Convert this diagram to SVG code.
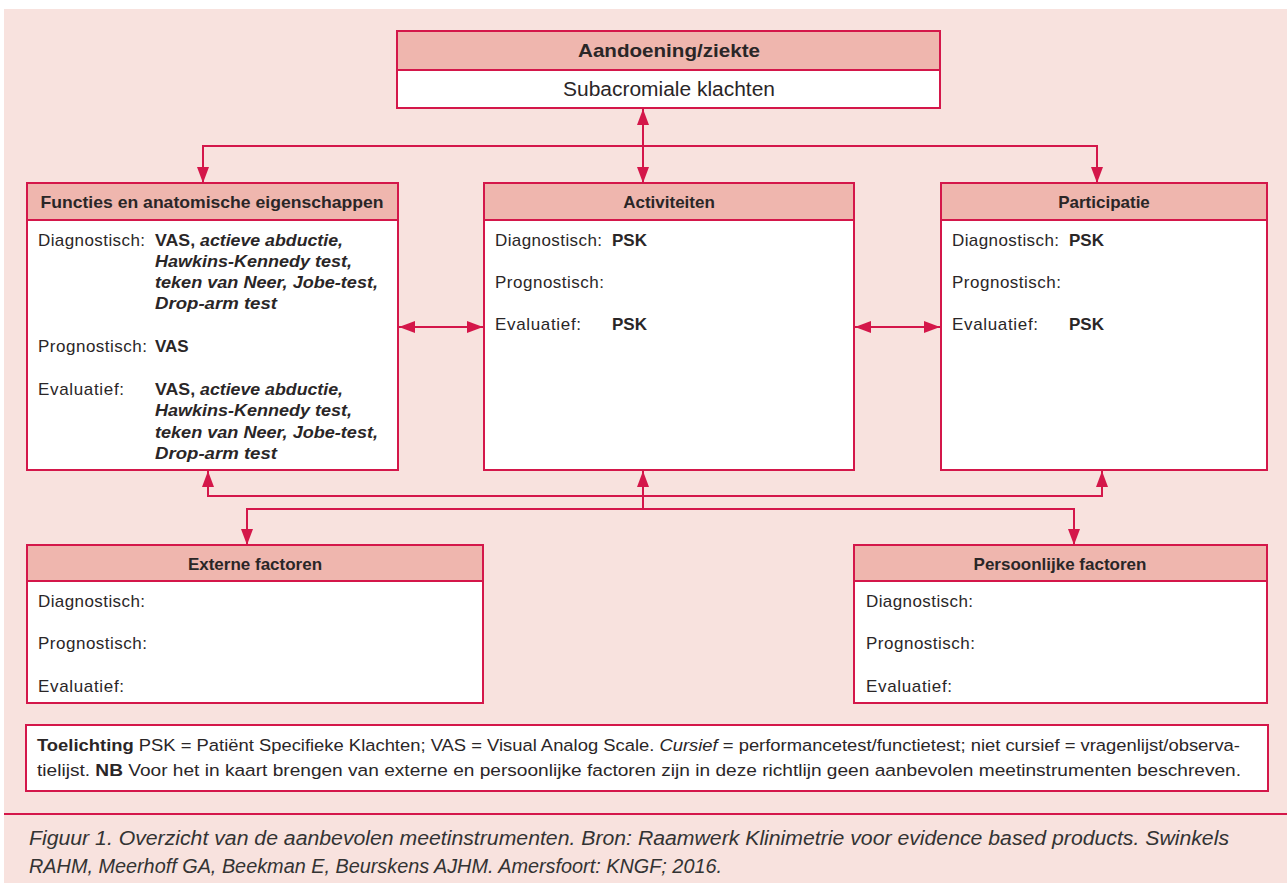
<svg xmlns="http://www.w3.org/2000/svg" width="1287" height="883" viewBox="0 0 1287 883">
<style>
.bg{fill:#f8e2de}
.box{fill:#ffffff;stroke:#d4174a;stroke-width:2}
.hdr{fill:#efb6ae;stroke:#d4174a;stroke-width:2}
.con{fill:none;stroke:#d4174a;stroke-width:2}
text{font-family:"Liberation Sans",Arial,sans-serif;fill:#2a2627}
.h{font-size:17px;font-weight:bold;text-anchor:middle}
.t{font-size:17px}
.b{font-weight:bold}
.bi{font-weight:bold;font-style:italic}
.i{font-style:italic}
.lg{font-size:16.3px}
.cap{font-size:19.5px;font-style:italic;fill:#333}
</style>
<defs>
<marker id="ah" markerUnits="userSpaceOnUse" markerWidth="17" markerHeight="13" refX="16" refY="6.5" orient="auto-start-reverse" viewBox="0 0 17 13">
<path d="M0,0.5 L16,6.5 L0,12.5 z" fill="#d4174a"/>
</marker>
</defs>
<rect x="0" y="0" width="1287" height="883" fill="#ffffff"/>
<rect class="bg" x="4" y="9" width="1283" height="874"/>
<line x1="4" y1="814" x2="1287" y2="814" stroke="#d4174a" stroke-width="2"/>

<g id="connectors">
<path class="con" d="M643,109 V183" marker-start="url(#ah)" marker-end="url(#ah)"/>
<path class="con" d="M203,183 V146 H1097 V183" marker-start="url(#ah)" marker-end="url(#ah)"/>
<path class="con" d="M399,327 H483" marker-start="url(#ah)" marker-end="url(#ah)"/>
<path class="con" d="M855,327 H940" marker-start="url(#ah)" marker-end="url(#ah)"/>
<path class="con" d="M208,471 V496 H1102 V471" marker-start="url(#ah)" marker-end="url(#ah)"/>
<path class="con" d="M643,471 V509" marker-start="url(#ah)"/>
<path class="con" d="M247,545 V509 H1074 V545" marker-start="url(#ah)" marker-end="url(#ah)"/>
</g>

<g id="node-aandoening">
<rect class="box" x="397" y="31" width="543" height="77"/>
<rect class="hdr" x="397" y="31" width="543" height="39"/>
<text class="h" x="669" y="57" style="font-size:18.5px" textLength="182" lengthAdjust="spacingAndGlyphs">Aandoening/ziekte</text>
<text x="669" y="96" style="font-size:19.5px;text-anchor:middle" textLength="212" lengthAdjust="spacingAndGlyphs">Subacromiale klachten</text>
</g>

<g id="node-functies">
<rect class="box" x="27" y="183" width="371" height="287"/>
<rect class="hdr" x="27" y="183" width="371" height="37"/>
<text class="h" x="212" y="208" textLength="343" lengthAdjust="spacingAndGlyphs">Functies en anatomische eigenschappen</text>
<text class="t" x="38" y="246" textLength="107" lengthAdjust="spacing">Diagnostisch:</text>
<text class="t" x="155" y="246" textLength="188" lengthAdjust="spacingAndGlyphs"><tspan class="b">VAS, </tspan><tspan class="bi">actieve abductie,</tspan></text>
<text class="t bi" x="155" y="267" textLength="197" lengthAdjust="spacingAndGlyphs">Hawkins-Kennedy test,</text>
<text class="t bi" x="155" y="288" textLength="223" lengthAdjust="spacingAndGlyphs">teken van Neer, Jobe-test,</text>
<text class="t bi" x="155" y="309" textLength="122" lengthAdjust="spacingAndGlyphs">Drop-arm test</text>
<text class="t" x="38" y="352" textLength="109" lengthAdjust="spacing">Prognostisch:</text>
<text class="t b" x="155" y="352">VAS</text>
<text class="t" x="38" y="395" textLength="86" lengthAdjust="spacing">Evaluatief:</text>
<text class="t" x="155" y="395" textLength="188" lengthAdjust="spacingAndGlyphs"><tspan class="b">VAS, </tspan><tspan class="bi">actieve abductie,</tspan></text>
<text class="t bi" x="155" y="416" textLength="197" lengthAdjust="spacingAndGlyphs">Hawkins-Kennedy test,</text>
<text class="t bi" x="155" y="438" textLength="223" lengthAdjust="spacingAndGlyphs">teken van Neer, Jobe-test,</text>
<text class="t bi" x="155" y="459" textLength="122" lengthAdjust="spacingAndGlyphs">Drop-arm test</text>
</g>

<g id="node-activiteiten">
<rect class="box" x="484" y="183" width="370" height="287"/>
<rect class="hdr" x="484" y="183" width="370" height="37"/>
<text class="h" x="669" y="208">Activiteiten</text>
<text class="t" x="495" y="246" textLength="107" lengthAdjust="spacing">Diagnostisch:</text>
<text class="t b" x="612" y="246">PSK</text>
<text class="t" x="495" y="288" textLength="109" lengthAdjust="spacing">Prognostisch:</text>
<text class="t" x="495" y="330" textLength="86" lengthAdjust="spacing">Evaluatief:</text>
<text class="t b" x="612" y="330">PSK</text>
</g>

<g id="node-participatie">
<rect class="box" x="941" y="183" width="326" height="287"/>
<rect class="hdr" x="941" y="183" width="326" height="37"/>
<text class="h" x="1104" y="208">Participatie</text>
<text class="t" x="952" y="246" textLength="107" lengthAdjust="spacing">Diagnostisch:</text>
<text class="t b" x="1069" y="246">PSK</text>
<text class="t" x="952" y="288" textLength="109" lengthAdjust="spacing">Prognostisch:</text>
<text class="t" x="952" y="330" textLength="86" lengthAdjust="spacing">Evaluatief:</text>
<text class="t b" x="1069" y="330">PSK</text>
</g>

<g id="node-externe">
<rect class="box" x="27" y="545" width="456" height="158"/>
<rect class="hdr" x="27" y="545" width="456" height="36"/>
<text class="h" x="255" y="570">Externe factoren</text>
<text class="t" x="38" y="607" textLength="107" lengthAdjust="spacing">Diagnostisch:</text>
<text class="t" x="38" y="649" textLength="109" lengthAdjust="spacing">Prognostisch:</text>
<text class="t" x="38" y="692" textLength="86" lengthAdjust="spacing">Evaluatief:</text>
</g>

<g id="node-persoonlijke">
<rect class="box" x="854" y="545" width="413" height="158"/>
<rect class="hdr" x="854" y="545" width="413" height="36"/>
<text class="h" x="1060" y="570">Persoonlijke factoren</text>
<text class="t" x="866" y="607" textLength="107" lengthAdjust="spacing">Diagnostisch:</text>
<text class="t" x="866" y="649" textLength="109" lengthAdjust="spacing">Prognostisch:</text>
<text class="t" x="866" y="692" textLength="86" lengthAdjust="spacing">Evaluatief:</text>
</g>

<g id="legend">
<rect class="box" x="26" y="725" width="1242" height="66"/>
<text class="lg" x="37" y="751" textLength="1203" lengthAdjust="spacingAndGlyphs"><tspan class="b">Toelichting</tspan> PSK = Patiënt Specifieke Klachten; VAS = Visual Analog Scale. <tspan class="i">Cursief</tspan> = performancetest/functietest; niet cursief = vragenlijst/observa-</text>
<text class="lg" x="37" y="776" textLength="1204" lengthAdjust="spacingAndGlyphs">tielijst. <tspan class="b">NB</tspan> Voor het in kaart brengen van externe en persoonlijke factoren zijn in deze richtlijn geen aanbevolen meetinstrumenten beschreven.</text>
</g>

<g id="caption">
<text class="cap" x="29" y="845" textLength="1200" lengthAdjust="spacingAndGlyphs">Figuur 1. Overzicht van de aanbevolen meetinstrumenten. Bron: Raamwerk Klinimetrie voor evidence based products. Swinkels</text>
<text class="cap" x="29" y="873" textLength="693" lengthAdjust="spacingAndGlyphs">RAHM, Meerhoff GA, Beekman E, Beurskens AJHM. Amersfoort: KNGF; 2016.</text>
</g>
</svg>
